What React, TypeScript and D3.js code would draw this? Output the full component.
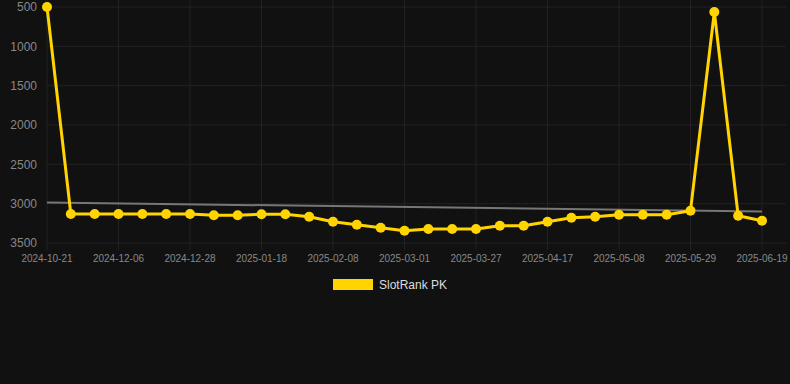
import React from "react";
import * as d3 from "d3";

const dates = [
  "2024-10-21", "2024-11-06", "2024-11-21", "2024-12-06", "2024-12-13", "2024-12-20",
  "2024-12-28", "2025-01-04", "2025-01-11", "2025-01-18", "2025-01-25", "2025-02-01",
  "2025-02-08", "2025-02-15", "2025-02-22", "2025-03-01", "2025-03-10", "2025-03-18",
  "2025-03-27", "2025-04-03", "2025-04-10", "2025-04-17", "2025-04-24", "2025-05-01",
  "2025-05-08", "2025-05-15", "2025-05-22", "2025-05-29", "2025-06-05", "2025-06-12",
  "2025-06-19",
];
const ranks = [
  500, 3131, 3131, 3131, 3131, 3131, 3131, 3148, 3148, 3135, 3135, 3166,
  3229, 3267, 3306, 3344, 3322, 3322, 3322, 3280, 3280, 3229, 3178, 3166,
  3140, 3140, 3140, 3089, 564, 3153, 3217,
];
const trendStart = 2985;
const trendEnd = 3100;
const yTicks = [500, 1000, 1500, 2000, 2500, 3000, 3500];
const seriesName = "SlotRank PK";

const W = 790;
const H = 384;
const left = 47;
const right = 762;
const top = 7;
const bottom = 243;

export default function App() {
  const x = d3
    .scalePoint<string>()
    .domain(dates)
    .range([left, right]);
  const y = d3.scaleLinear().domain([500, 3500]).range([top, bottom]);
  const line = d3
    .line<number>()
    .x((_, i) => x(dates[i]) as number)
    .y((d) => y(d));
  const xTickIdx = dates.map((_, i) => i).filter((i) => i % 3 === 0);
  const font = "Helvetica, Arial, 'Liberation Sans', sans-serif";

  return (
    <svg
      width={W}
      height={H}
      style={{ position: "absolute", left: 0, top: 0, background: "#111111" }}
    >
      <rect x={0} y={0} width={W} height={H} fill="#111111" />
      {yTicks.map((t) => (
        <g key={t}>
          <line x1={left} x2={right + 24} y1={y(t)} y2={y(t)} stroke="#222222" strokeWidth={1} />
          <text
            x={37}
            y={y(t)}
            dy="0.35em"
            textAnchor="end"
            fontFamily={font}
            fontSize={12}
            fill="#888888"
          >
            {t}
          </text>
        </g>
      ))}
      {xTickIdx.map((i) => (
        <g key={i}>
          <line
            x1={x(dates[i])}
            x2={x(dates[i])}
            y1={0}
            y2={bottom + 7}
            stroke="#222222"
            strokeWidth={1}
          />
          <text
            x={x(dates[i])}
            y={262}
            textAnchor="middle"
            fontFamily={font}
            fontSize={10}
            fill="#888888"
          >
            {dates[i]}
          </text>
        </g>
      ))}
      <line
        x1={x(dates[0])}
        x2={x(dates[dates.length - 1])}
        y1={y(trendStart)}
        y2={y(trendEnd)}
        stroke="#777777"
        strokeWidth={2}
      />
      <path d={line(ranks) || ""} fill="none" stroke="#FFD400" strokeWidth={3} strokeLinejoin="round" />
      {ranks.map((v, i) => (
        <circle key={i} cx={x(dates[i])} cy={y(v)} r={5} fill="#FFD400" />
      ))}
      <rect x={333} y={279} width={40} height={11} fill="#FFD400" />
      <text x={379} y={288.5} fontFamily={font} fontSize={12} fill="#DDDDDD">
        {seriesName}
      </text>
    </svg>
  );
}
